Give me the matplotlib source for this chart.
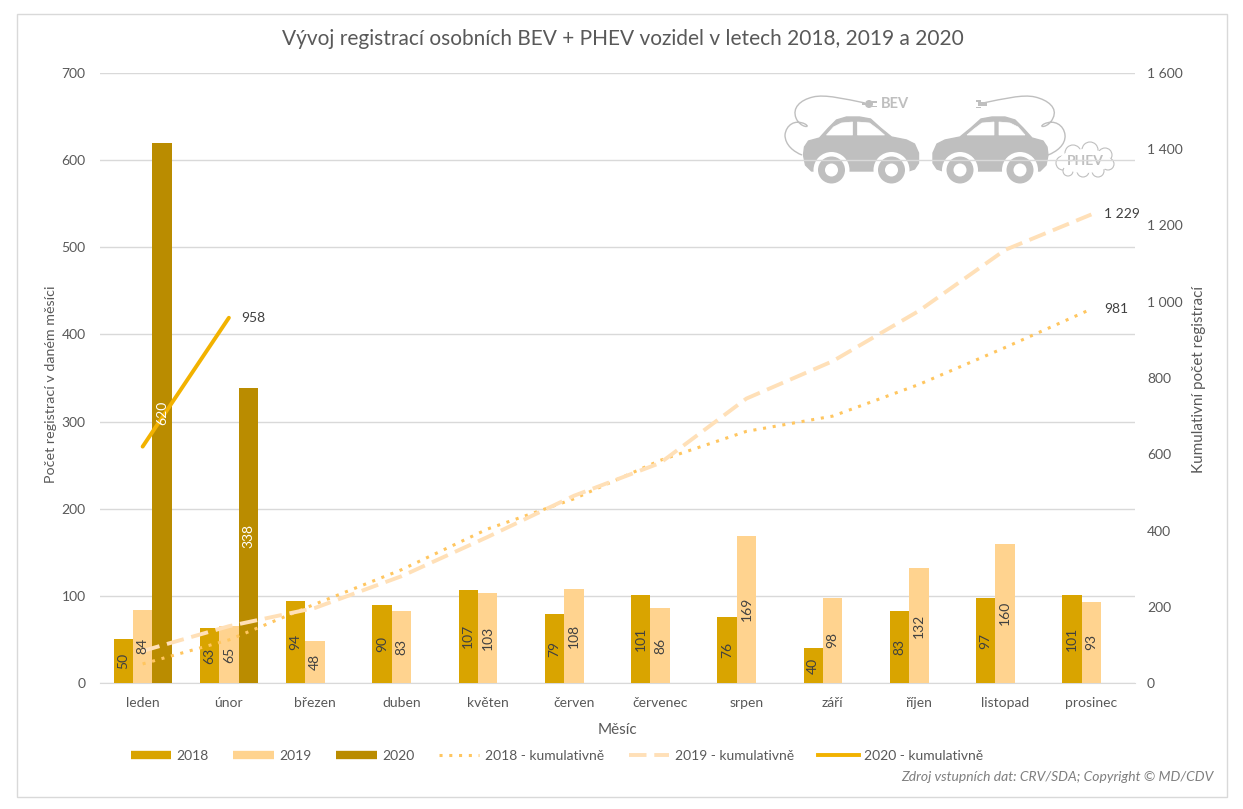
import numpy as np
import matplotlib
matplotlib.use("Agg")
import matplotlib.pyplot as plt
from matplotlib.lines import Line2D
from matplotlib.patches import Circle, Ellipse, PathPatch, Polygon, Rectangle
from matplotlib.path import Path

plt.rcParams['font.family'] = ['Lato', 'DejaVu Sans']

months = ['leden', 'únor', 'březen', 'duben', 'květen', 'červen', 'červenec',
          'srpen', 'září', 'říjen', 'listopad', 'prosinec']
reg_2018 = [50, 63, 94, 90, 107, 79, 101, 76, 40, 83, 97, 101]
reg_2019 = [84, 65, 48, 83, 103, 108, 86, 169, 98, 132, 160, 93]
reg_2020 = [620, 338]
cum_2018 = [50, 113, 207, 297, 404, 483, 584, 660, 700, 783, 880, 981]
cum_2019 = [84, 149, 197, 280, 383, 491, 577, 746, 844, 976, 1136, 1229]
cum_2020 = [620, 958]

C_2018 = '#D9A400'
C_2019 = '#FFD38F'
C_2020 = '#BA8C00'
C_L2018 = '#FFC660'
C_L2019 = '#FFE0B8'
C_L2020 = '#F2B200'
TXT = '#595959'
GREY = '#BFBFBF'

W, H = 1243, 809
fig = plt.figure(figsize=(W / 100, H / 100), dpi=100)


def pixel_axes(x0, y0, x1, y1):
    # reference pixels, y going down
    return fig.add_axes([x0 / W, 1 - y1 / H, (x1 - x0) / W, (y1 - y0) / H])


ax = pixel_axes(99.5, 73, 1134.5, 683)
ax.set_facecolor('none')
ax2 = ax.twinx()

x = np.arange(12)
bw = 0.225
ax.bar(x - bw, reg_2018, bw, color=C_2018, zorder=3)
ax.bar(x, reg_2019, bw, color=C_2019, zorder=3)
ax.bar(x[:2] + bw, reg_2020, bw, color=C_2020, zorder=3)

ax.set_xlim(-0.5, 11.5)
ax.set_ylim(0, 700)
ax.set_yticks(range(0, 701, 100))
ax.set_xticks(x, months)
ax.grid(axis='y', color='#D9D9D9', lw=1, zorder=0)
ax.set_axisbelow(True)
ax.tick_params(length=0, labelsize=10, labelcolor=TXT)
ax.tick_params(axis='x', pad=10)
ax.tick_params(axis='y', pad=10)
for s in ['top', 'left', 'right']:
    ax.spines[s].set_visible(False)
    ax2.spines[s].set_visible(False)
ax.spines['bottom'].set_color('#D9D9D9')
ax2.spines['bottom'].set_visible(False)
ax.set_xlabel('Měsíc', fontsize=11, color=TXT)
ax.xaxis.set_label_coords(0.5, -0.0656)
ax.set_ylabel('Počet registrací v daném měsíci', fontsize=10.3, color=TXT)
ax.yaxis.set_label_coords(-0.041, 0.489)

ax2.plot(x, cum_2018, color=C_L2018, lw=2.2, ls=(0, (1, 2.2)), zorder=4)
ax2.plot(x, cum_2019, color=C_L2019, lw=2.8, ls=(0, (4.5, 2)), zorder=4)
ax2.plot(x[:2], cum_2020, color=C_L2020, lw=2.8, zorder=4, solid_capstyle='round')
ax2.set_ylim(0, 1600)
ax2.set_yticks(range(0, 1601, 200), [f'{v:,}'.replace(',', ' ') for v in range(0, 1601, 200)])
ax2.tick_params(length=0, labelsize=10, labelcolor=TXT, pad=9)
ax2.set_ylabel('Kumulativní počet registrací', fontsize=11, color=TXT)
ax2.yaxis.set_label_coords(1.0556, 0.498)

# bar labels sit above the lines, so they go on the upper axes
for offset, vals, col in [(-bw, reg_2018, '#404040'), (0, reg_2019, '#404040'), (bw, reg_2020, 'white')]:
    for i, v in enumerate(vals):
        ax2.text(i + offset, v / 2, str(v), transform=ax.transData, rotation=90, ha='center', va='center',
                 fontsize=10, color=col, zorder=6)

end_labels = [(cum_2018, '981', 11), (cum_2019, '1 229', 11), (cum_2020, '958', 1)]
for vals, lab, i in end_labels:
    ax2.annotate(lab, (i, vals[i]), xytext=(9, 0), textcoords='offset points', va='center',
                 fontsize=10, color='#404040', zorder=6)

fig.text(622.5 / W, 1 - 39 / H, 'Vývoj registrací osobních BEV + PHEV vozidel v letech 2018, 2019 a 2020',
         ha='center', va='center', fontsize=15, color=TXT)
fig.text(1214 / W, 1 - 777 / H, 'Zdroj vstupních dat: CRV/SDA; Copyright © MD/CDV', ha='right', va='center',
         fontsize=10, style='italic', color='#7F7F7F')

handles = [
    Line2D([], [], color=C_2018, lw=6, solid_capstyle='butt'),
    Line2D([], [], color=C_2019, lw=6, solid_capstyle='butt'),
    Line2D([], [], color=C_2020, lw=6, solid_capstyle='butt'),
    Line2D([], [], color=C_L2018, lw=2.2, ls=(0, (1, 2.2))),
    Line2D([], [], color=C_L2019, lw=2.8, ls=(0, (4.5, 2))),
    Line2D([], [], color=C_L2020, lw=2.8),
]
labels = ['2018', '2019', '2020', '2018 - kumulativně', '2019 - kumulativně', '2020 - kumulativně']
fig.legend(handles, labels, loc='center', bbox_to_anchor=(557 / W, 1 - 756 / H), ncol=6, frameon=False,
           fontsize=10, labelcolor=TXT, handlelength=2.9, handletextpad=0.4, columnspacing=1.78)

# underlay in reference pixels: frame and the car logo, gridlines run over it
ov = fig.add_axes([0, 0, 1, 1], zorder=-1)
ov.set_xlim(0, W)
ov.set_ylim(H, 0)
ov.axis('off')
ov.add_patch(Rectangle((17.5, 13.5), 1210, 783, fill=False, ec='#D9D9D9', lw=1))

BODY = [(0, 38), (1, 30), (5, 24), (16, 21), (25, 11), (33, 3), (43, 0), (56, 0), (67, 2), (77, 11), (88, 20),
        (103, 23), (111, 27), (115, 36), (115, 46), (111, 52), (105, 54), (8, 54), (2, 48)]
WIN_A = [(23, 18), (30, 10), (38, 6), (49, 5), (49, 18)]
WIN_B = [(54, 5), (66, 6), (74, 12), (81, 18), (54, 18)]


def car(x0, flip=False):
    tx = (lambda px: x0 + 115 - px) if flip else (lambda px: x0 + px)
    pts = lambda p: [(tx(a), 117 + b) for a, b in p]
    ov.add_patch(Polygon(pts(BODY), closed=True, fc=GREY, ec=GREY, lw=1, joinstyle='round'))
    ov.add_patch(Polygon(pts(WIN_A), closed=True, fc='white', ec='white', lw=0.5))
    ov.add_patch(Polygon(pts(WIN_B), closed=True, fc='white', ec='white', lw=0.5))
    for wx in (28, 88):
        c = tx(wx)
        ov.add_patch(Circle((c, 170), 18, fc='white', ec='none'))
        ov.add_patch(Circle((c, 170), 13.5, fc=GREY, ec='none'))
        ov.add_patch(Circle((c, 170), 6.5, fc='white', ec='none'))


car(803.5)
car(933, flip=True)

cable_l = Path([(865, 103), (845, 99), (825, 94), (813, 97), (800, 100), (792, 108), (796, 118), (800, 128),
                (812, 128), (805, 124), (795, 119), (786, 125), (785, 135), (785, 145), (794, 152), (802, 155)],
               [Path.MOVETO] + [Path.CURVE4] * 15)
cable_r = Path([(983, 103), (1003, 99), (1023, 94), (1035, 97), (1048, 100), (1058, 108), (1053, 118), (1049, 128),
                (1037, 128), (1044, 124), (1054, 119), (1064, 125), (1065, 135), (1066, 145), (1056, 152), (1048, 155)],
               [Path.MOVETO] + [Path.CURVE4] * 15)
for p in (cable_l, cable_r):
    ov.add_patch(PathPatch(p, fill=False, ec=GREY, lw=1))
ov.add_patch(Circle((869, 104), 4, fc=GREY, ec='none'))
ov.add_patch(Rectangle((862, 103), 5, 2, fc=GREY, ec='none'))
ov.add_patch(Rectangle((872, 101), 5, 1.5, fc=GREY, ec='none'))
ov.add_patch(Rectangle((872, 105.5), 5, 1.5, fc=GREY, ec='none'))
ov.add_patch(Rectangle((978, 102), 9, 4, fc=GREY, ec='none'))
ov.add_patch(Rectangle((976, 100), 5, 1.5, fc=GREY, ec='none'))
ov.add_patch(Rectangle((976, 106.5), 5, 1.5, fc=GREY, ec='none'))
ov.text(881, 104, 'BEV', fontsize=10.5, fontweight='bold', color=GREY, va='center')

for cx, cy, r in [(1063, 163, 7), (1073, 153, 8), (1090, 150, 8), (1105, 155, 7), (1108, 164, 6), (1098, 171, 6),
                  (1083, 171, 6), (1068, 171, 5)]:
    ov.add_patch(Circle((cx, cy), r, fc='white', ec=GREY, lw=0.8))
ov.add_patch(Ellipse((1085, 161), 52, 24, fc='white', ec='none'))
ov.text(1067, 161, 'PHEV', fontsize=10, fontweight='bold', color=GREY, va='center')

fig.savefig('out.png', dpi=100, facecolor='white')
